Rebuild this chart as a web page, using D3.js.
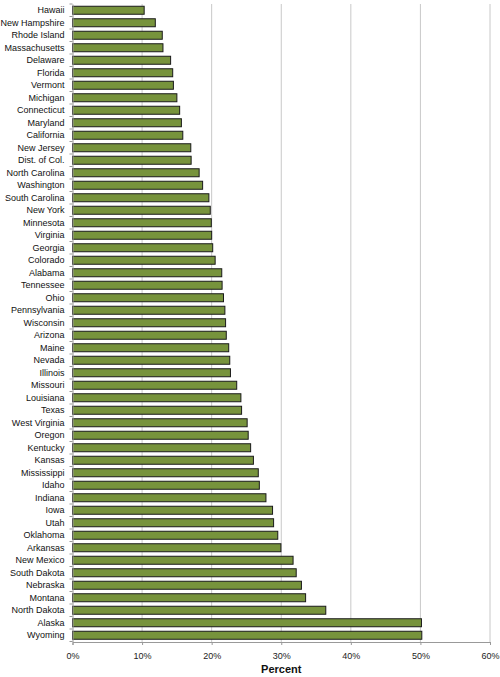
<!DOCTYPE html>
<html>
<head>
<meta charset="utf-8">
<script src="https://cdn.jsdelivr.net/npm/d3@7"></script>
<style>
  body { margin: 0; background: #fff; }
  svg text { font-family: "Liberation Sans", Arial, sans-serif; }
</style>
</head>
<body>
<div id="chart"></div>
<script>
// Estados (de cima para baixo) e percentuais
const states = [
  "Hawaii", "New Hampshire", "Rhode Island", "Massachusetts", "Delaware",
  "Florida", "Vermont", "Michigan", "Connecticut", "Maryland", "California",
  "New Jersey", "Dist. of Col.", "North Carolina", "Washington",
  "South Carolina", "New York", "Minnesota", "Virginia", "Georgia",
  "Colorado", "Alabama", "Tennessee", "Ohio", "Pennsylvania", "Wisconsin",
  "Arizona", "Maine", "Nevada", "Illinois", "Missouri", "Louisiana", "Texas",
  "West Virginia", "Oregon", "Kentucky", "Kansas", "Mississippi", "Idaho",
  "Indiana", "Iowa", "Utah", "Oklahoma", "Arkansas", "New Mexico",
  "South Dakota", "Nebraska", "Montana", "North Dakota", "Alaska", "Wyoming"
];
const percents = [
  10.3, 11.9, 12.9, 13.0, 14.1,
  14.4, 14.5, 15.0, 15.4, 15.65, 15.85,
  17.0, 17.05, 18.2, 18.7,
  19.6, 19.8, 19.95, 20.0, 20.15,
  20.5, 21.45, 21.5, 21.7, 21.9, 22.0,
  22.1, 22.45, 22.6, 22.7, 23.6, 24.2, 24.3,
  25.1, 25.25, 25.6, 26.0, 26.7, 26.85,
  27.8, 28.75, 28.9, 29.5, 29.95, 31.7,
  32.15, 32.9, 33.5, 36.4, 50.15, 50.2
];
const xTicks = [0, 10, 20, 30, 40, 50, 60];

const width = 500, height = 677;
const margin = { top: 4, right: 10, bottom: 35, left: 72.5 };

const svg = d3.select("#chart").append("svg")
  .attr("width", width)
  .attr("height", height);

const x = d3.scaleLinear()
  .domain([0, 60])
  .range([margin.left, width - margin.right]);

const y = d3.scaleBand()
  .domain(states)
  .range([margin.top, height - margin.bottom - 0.5])
  .paddingInner(0.36)
  .paddingOuter(0.18);

// Linhas de grade verticais
svg.append("g")
  .selectAll("line")
  .data(xTicks.slice(1))
  .enter().append("line")
  .attr("x1", d => x(d)).attr("x2", d => x(d))
  .attr("y1", margin.top).attr("y2", height - margin.bottom)
  .attr("stroke", "#c8c8c8")
  .attr("stroke-width", 1);

// Barras
svg.append("g")
  .selectAll("rect")
  .data(states)
  .enter().append("rect")
  .attr("x", x(0))
  .attr("y", d => y(d))
  .attr("width", (d, i) => x(percents[i]) - x(0))
  .attr("height", y.bandwidth())
  .attr("fill", "#77933c")
  .attr("stroke", "#1a1a1a")
  .attr("stroke-width", 1);

// Eixo Y
const yAxis = svg.append("g")
  .attr("transform", `translate(${x(0)},0)`)
  .call(d3.axisLeft(y).tickSize(0).tickPadding(8));
yAxis.select(".domain").attr("stroke", "#999");
yAxis.selectAll("text")
  .attr("font-size", "9px")
  .attr("fill", "#111");

// Pequenos traços entre as categorias
svg.append("g")
  .selectAll("line")
  .data(d3.range(states.length + 1))
  .enter().append("line")
  .attr("x1", x(0) - 3).attr("x2", x(0))
  .attr("y1", i => margin.top + i * y.step())
  .attr("y2", i => margin.top + i * y.step())
  .attr("stroke", "#999");

// Eixo X
const xAxis = svg.append("g")
  .attr("transform", `translate(0,${height - margin.bottom})`)
  .call(d3.axisBottom(x).tickValues(xTicks).tickSize(3).tickPadding(8)
    .tickFormat(d => d + "%"));
xAxis.select(".domain").attr("stroke", "#999");
xAxis.selectAll(".tick line").attr("stroke", "#999");
xAxis.selectAll("text")
  .attr("font-size", "9px")
  .attr("fill", "#222");

// Título do eixo
svg.append("text")
  .attr("x", (x(0) + x(60)) / 2)
  .attr("y", height - 4)
  .attr("text-anchor", "middle")
  .attr("font-size", "11px")
  .attr("font-weight", "bold")
  .attr("fill", "#111")
  .text("Percent");
</script>
</body>
</html>
